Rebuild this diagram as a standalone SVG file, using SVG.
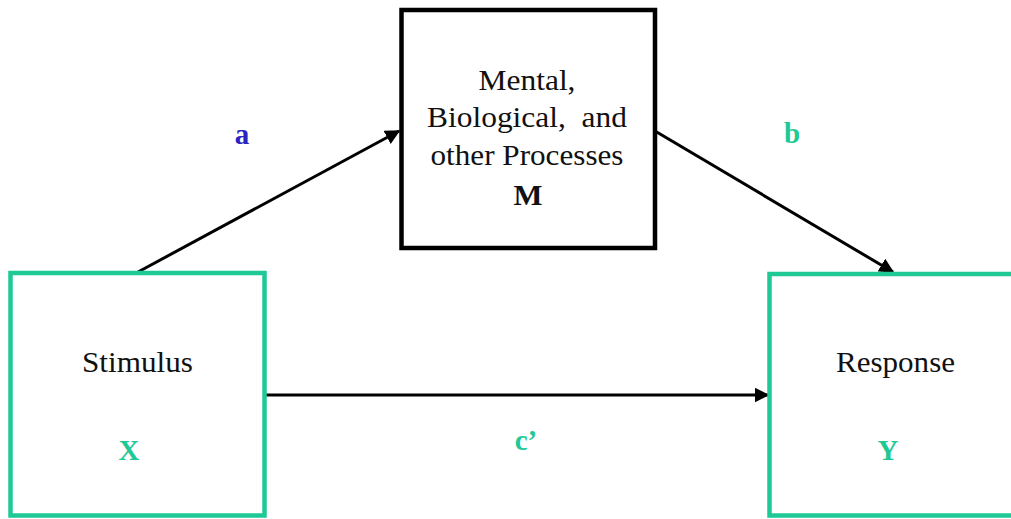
<svg xmlns="http://www.w3.org/2000/svg" width="1011" height="519" viewBox="0 0 1011 519">
<style>
.t{font-family:"Liberation Serif","Times New Roman",serif;font-size:29px;fill:#111;text-anchor:middle;white-space:pre}
.b{font-weight:bold}
.g{fill:#1fc996}
.bl{fill:#2b22c4}
.gbox{fill:none;stroke:#1fc996;stroke-width:4.5}
.kbox{fill:none;stroke:#000;stroke-width:4.5}
.c{stroke:#000;stroke-width:3;fill:none;marker-end:url(#ah)}
</style>
<defs>
<marker id="ah" viewBox="0 0 10 10" refX="9" refY="5" markerWidth="5" markerHeight="5" orient="auto" markerUnits="strokeWidth">
<path d="M0,0 L10,5 L0,10 z" fill="#000"/>
</marker>
</defs>
<rect width="1011" height="519" fill="#fff"/>
<g id="connectors">
<line class="c" x1="138" y1="272" x2="399" y2="131"/>
<line class="c" x1="655" y1="131" x2="893" y2="272"/>
<line class="c" x1="266" y1="395" x2="768" y2="395"/>
</g>
<g id="node-M">
<rect class="kbox" x="401.5" y="10" width="253.5" height="238"/>
<text class="t" x="527" y="90" textLength="97" lengthAdjust="spacingAndGlyphs">Mental,</text>
<text class="t" x="527" y="127" xml:space="preserve" textLength="200" lengthAdjust="spacingAndGlyphs">Biological,  and</text>
<text class="t" x="527" y="165" textLength="193" lengthAdjust="spacingAndGlyphs">other Processes</text>
<text class="t b" x="528" y="205" textLength="29" lengthAdjust="spacingAndGlyphs">M</text>
</g>
<g id="node-X">
<rect class="gbox" x="10.5" y="273" width="254" height="242.5"/>
<text class="t" x="137.5" y="372" textLength="111" lengthAdjust="spacingAndGlyphs">Stimulus</text>
<text class="t b g" x="129" y="460">X</text>
</g>
<g id="node-Y">
<rect class="gbox" x="769.5" y="274" width="260" height="241.5"/>
<text class="t" x="895.5" y="372" textLength="119" lengthAdjust="spacingAndGlyphs">Response</text>
<text class="t b g" x="888" y="460">Y</text>
</g>
<g id="labels">
<text class="t b bl" x="242" y="144">a</text>
<text class="t b g" x="792" y="143">b</text>
<text class="t b g" x="526" y="450">c’</text>
</g>
</svg>
